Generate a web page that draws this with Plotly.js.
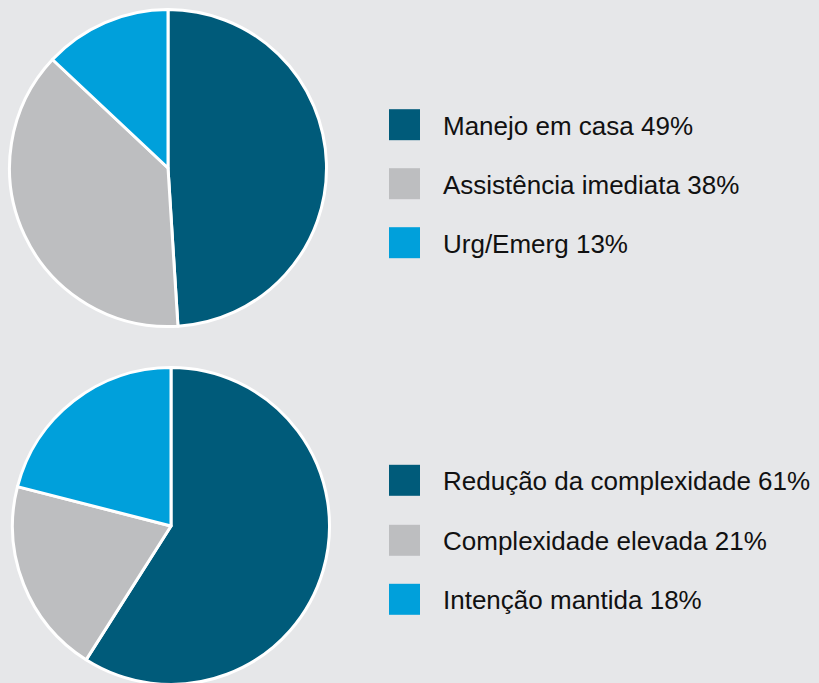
<!DOCTYPE html>
<html>
<head>
<meta charset="utf-8">
<script src="https://cdn.plot.ly/plotly-3.0.1.min.js"></script>
<style>
html,body{margin:0;padding:0;background:#e6e7e9;overflow:hidden;}
#chart{width:819px;height:700px;}
</style>
</head>
<body>
<div id="chart"></div>
<script>
// Pie 1
const labels1 = ['Manejo em casa', 'Assistência imediata', 'Urg/Emerg'];
const values1 = [49, 38, 13];
const shown1 = [49, 38, 13];
// Pie 2 (slice sizes as drawn; printed percentages as shown in the legend)
const labels2 = ['Redução da complexidade', 'Complexidade elevada', 'Intenção mantida'];
const values2 = [59, 20, 21];
const shown2 = [61, 21, 18];
const colors = ['#005b7a', '#bdbec0', '#00a0db'];

const W = 819, H = 700;
const px = v => v / W;
const py = v => (H - v) / H;

function pieTrace(labels, values, cx, cy, r) {
  return {
    type: 'pie', labels: labels, values: values, sort: false,
    direction: 'clockwise', rotation: 0, textinfo: 'none', hoverinfo: 'label+percent',
    showlegend: false,
    marker: {colors: colors, line: {color: '#ffffff', width: 3}},
    domain: {x: [px(cx - r), px(cx + r)], y: [py(cy + r), py(cy - r)]}
  };
}

const data = [
  pieTrace(labels1, values1, 168, 168, 158.5),
  pieTrace(labels2, values2, 171, 526, 158.5)
];

const shapes = [], annotations = [];
function legend(labels, shown, ys) {
  labels.forEach((lab, i) => {
    const y = ys[i];
    shapes.push({type: 'rect', xref: 'paper', yref: 'paper',
      x0: px(389), x1: px(420), y0: py(y + 15.5), y1: py(y - 15.5),
      fillcolor: colors[i], line: {width: 0}});
    annotations.push({xref: 'paper', yref: 'paper', x: px(441), y: py(y + 1),
      xanchor: 'left', yanchor: 'middle', showarrow: false,
      text: lab + ' ' + shown[i] + '%',
      font: {family: "'Liberation Sans', Arial, sans-serif", size: 26, color: '#111111'}});
  });
}
legend(labels1, shown1, [124.7, 183.7, 242.7]);
legend(labels2, shown2, [480.3, 540.3, 599.3]);

Plotly.newPlot('chart', data, {
  width: W, height: H,
  margin: {l: 0, r: 0, t: 0, b: 0},
  paper_bgcolor: '#e6e7e9', plot_bgcolor: '#e6e7e9',
  shapes: shapes, annotations: annotations
}, {displayModeBar: false, staticPlot: true});
</script>
</body>
</html>
